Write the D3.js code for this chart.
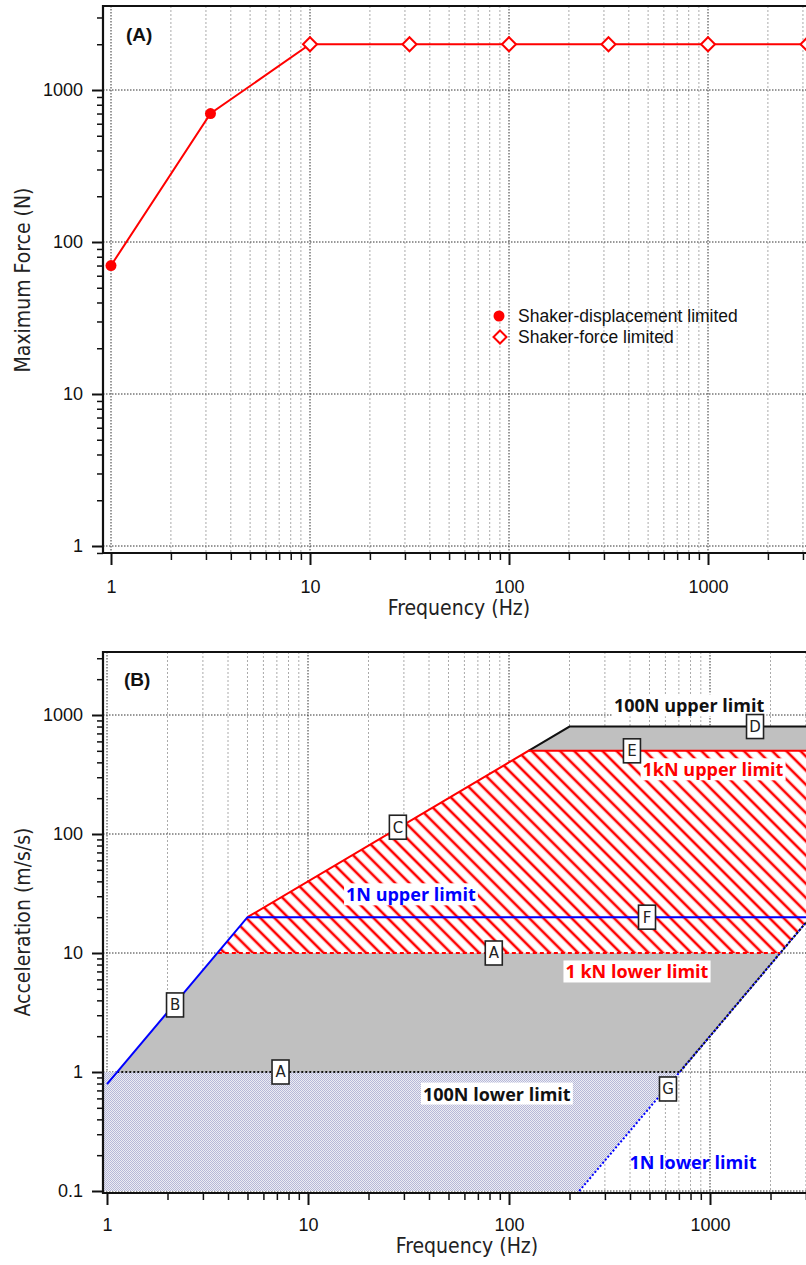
<!DOCTYPE html>
<html>
<head>
<meta charset="utf-8">
<script src="https://cdnjs.cloudflare.com/ajax/libs/d3/7.8.5/d3.min.js"></script>
<style>
	body { margin:0; background:#fff; }
	svg { display:block; background:#fff; }
	.title { font-family:'DejaVu Sans Condensed','DejaVu Sans', sans-serif; font-size:21px; fill:#222; }
	.legend { font-family:'Liberation Sans', Arial, sans-serif; font-size:17.5px; fill:#111; }
	.letter { font-family:'Liberation Sans', Arial, sans-serif; font-size:19px; font-weight:bold; fill:#111; }
	.lbl { font-family:'Open Sans', sans-serif; font-size:18px; font-weight:bold; }
	.box text { font-family:'DejaVu Sans', sans-serif; font-size:15px; fill:#222; }
</style>
</head>
<body>
<div id="chart"></div>
<script>
var width = 806, height = 1265;

// ---- panel A data ----
var freqA  = [1, 3.162, 10, 31.62, 100, 316.2, 1000, 3162];
var forceA = [70, 700, 2000, 2000, 2000, 2000, 2000, 2000];
var kindA  = ["disp", "disp", "force", "force", "force", "force", "force", "force"];
var legendA = ["Shaker-displacement limited", "Shaker-force limited"];

// ---- tick labels ----
var xTicks = [1, 10, 100, 1000];
var xTickLabels = ["1", "10", "100", "1000"];
var yTicksA = [1, 10, 100, 1000];
var yTickLabelsA = ["1", "10", "100", "1000"];
var yTicksB = [0.1, 1, 10, 100, 1000];
var yTickLabelsB = ["0.1", "1", "10", "100", "1000"];

// ---- panel B limit lines (frequency, acceleration) ----
var blueF = [1, 5, 10000],        blueA = [0.79, 20, 20];      // B, F : 1N upper limit
var redF  = [5, 125, 10000],      redA  = [20, 500, 500];      // C, E : 1kN upper limit
var blackF = [125, 200, 10000],   blackA = [500, 800, 800];    // D : 100N upper limit
var redLowF = [3.56, 2236],       redLowA = [10, 10];          // A : 1 kN lower limit
var blkLowF = [1.125, 707, 15811], blkLowA = [1, 1, 500];      // A : 100N lower limit
var blueLowF = [223.6, 15811],    blueLowA = [0.1, 500];       // G : 1N lower limit

// ---- panel B regions ----
var lavF = [0.9, 223.6, 707, 0.9],           lavA = [0.1, 0.1, 1, 1];
var greyMidF = [1.125, 707, 2236, 3.56],      greyMidA = [1, 1, 10, 10];
var hatchF = [3.56, 2236, 15811, 125, 5],     hatchA = [10, 10, 500, 500, 20];
var greyTopF = [125, 200, 20000, 20000],      greyTopA = [500, 800, 800, 500];

// ---- panel B annotations ----
var boxText = ["C", "D", "E", "F", "A", "B", "A", "G"];
var boxF = [28, 1675, 409, 486, 84, 2.18, 7.3, 618];
var boxA = [114, 800, 500, 20, 10, 3.66, 1, 0.72];

var lblText  = ["100N upper limit", "1kN upper limit", "1N upper limit", "1 kN lower limit", "100N lower limit", "1N lower limit"];
var lblF     = [787, 1035, 32.5, 433, 87, 823];
var lblA     = [1191, 345, 30.7, 6.9, 0.65, 0.172];
var lblColor = ["#111", "#f00", "#0000ff", "#f00", "#111", "#0000ff"];
var lblBg    = [true, true, true, true, true, false];

var svg = d3.select("#chart").append("svg")
	.attr("width", width)
	.attr("height", height);

var defs = svg.append("defs");

var hatch = defs.append("pattern")
	.attr("id", "hatch")
	.attr("patternUnits", "userSpaceOnUse")
	.attr("width", 10).attr("height", 10)
	.attr("patternTransform", "rotate(45)");
hatch.append("rect").attr("width", 10).attr("height", 10).attr("fill", "#fff");
hatch.append("line").attr("x1", 0).attr("x2", 10).attr("y1", 5).attr("y2", 5)
	.attr("stroke", "#f00").attr("stroke-width", 2.6);

var chk = defs.append("pattern")
	.attr("id", "checker")
	.attr("patternUnits", "userSpaceOnUse")
	.attr("width", 2).attr("height", 2);
chk.append("rect").attr("width", 2).attr("height", 2).attr("fill", "#ececf4");
chk.append("rect").attr("width", 1).attr("height", 1).attr("fill", "#b6b8d8");
chk.append("rect").attr("x", 1).attr("y", 1).attr("width", 1).attr("height", 1).attr("fill", "#b6b8d8");

defs.append("clipPath").attr("id", "clipB")
	.append("rect").attr("x", 103).attr("y", 652).attr("width", 800).attr("height", 541);

function isMajor(v) {
	var l = Math.log10(v);
	return Math.abs(l - Math.round(l)) < 1e-9;
}

// grid lines for one panel
function drawGrid(g, x, y, box) {
	var xt = d3.scaleLog().domain([x.invert(box.left), x.invert(box.right)]).ticks();
	var yt = d3.scaleLog().domain([y.invert(box.bottom), y.invert(box.top)]).ticks().filter(isMajor);

	g.selectAll(".vgrid").data(xt).enter().append("line")
		.attr("x1", function(d) { return x(d); }).attr("x2", function(d) { return x(d); })
		.attr("y1", box.top).attr("y2", box.bottom)
		.attr("stroke", function(d) { return isMajor(d) ? "#333" : "#aaa"; })
		.attr("stroke-dasharray", function(d) { return isMajor(d) ? "1.5,1.5" : "2,2"; })
		.attr("stroke-width", 1);

	g.selectAll(".hgrid").data(yt).enter().append("line")
		.attr("y1", function(d) { return y(d); }).attr("y2", function(d) { return y(d); })
		.attr("x1", box.left).attr("x2", box.right)
		.attr("stroke", "#333")
		.attr("stroke-dasharray", "1.5,1.5")
		.attr("stroke-width", 1);
}

function drawAxes(g, x, y, box, yTicks, yLabels, xPad) {
	var xt = d3.scaleLog().domain([x.invert(box.left), x.invert(box.right)]).ticks().filter(function(d) { return !isMajor(d); });
	var yt = d3.scaleLog().domain([y.invert(box.bottom), y.invert(box.top)]).ticks().filter(function(d) { return !isMajor(d); });

	var gx = g.append("g").attr("transform", "translate(0," + box.bottom + ")");
	gx.append("g").call(d3.axisBottom(x).tickValues(xt).tickSize(7).tickFormat(""))
		.call(function(s) { s.select(".domain").remove(); s.selectAll("line").attr("stroke-width", 1.5).attr("stroke", "#111"); });
	gx.append("g").call(d3.axisBottom(x).tickValues(xTicks).tickSize(12).tickPadding(xPad)
		.tickFormat(function(d, i) { return xTickLabels[i]; }))
		.call(function(s) { s.select(".domain").remove(); s.selectAll("line").attr("stroke-width", 2).attr("stroke", "#111"); });

	var gy = g.append("g").attr("transform", "translate(" + box.left + ",0)");
	gy.append("g").call(d3.axisLeft(y).tickValues(yt).tickSize(6).tickFormat(""))
		.call(function(s) { s.select(".domain").remove(); s.selectAll("line").attr("stroke-width", 1.5).attr("stroke", "#111"); });
	gy.append("g").call(d3.axisLeft(y).tickValues(yTicks).tickSize(11).tickPadding(9)
		.tickFormat(function(d, i) { return yLabels[i]; }))
		.call(function(s) { s.select(".domain").remove(); s.selectAll("line").attr("stroke-width", 2).attr("stroke", "#111"); });

	g.selectAll(".tick text").style("font-family", "'Liberation Sans', Arial, sans-serif").style("font-size", "18px").attr("fill", "#111");

	// frame: left, bottom, top
	g.append("path")
		.attr("d", "M" + box.right + "," + box.top + "H" + box.left + "V" + box.bottom + "H" + box.right)
		.attr("fill", "none").attr("stroke", "#111").attr("stroke-width", 2.2);
}

// ================= Panel A =================
var boxA1 = { left: 103, top: 6, bottom: 553, right: 806 };
var xA = d3.scaleLog().domain([1, 10000]).range([111, 907]);
var yA = d3.scaleLog().domain([1, 1000]).range([546, 90]);

var gA = svg.append("g");
drawGrid(gA, xA, yA, boxA1);

var lineA = d3.line().x(function(d) { return xA(d[0]); }).y(function(d) { return yA(d[1]); });
gA.append("path")
	.datum(d3.zip(freqA, forceA))
	.attr("d", lineA)
	.attr("fill", "none").attr("stroke", "#f00").attr("stroke-width", 2);

var ptsA = d3.zip(freqA, forceA, kindA);
gA.selectAll(".dot").data(ptsA.filter(function(d) { return d[2] == "disp"; })).enter().append("circle")
	.attr("cx", function(d) { return xA(d[0]); })
	.attr("cy", function(d) { return yA(d[1]); })
	.attr("r", 5.5).attr("fill", "#f00");

var diamond = "M0,-7L7,0L0,7L-7,0Z";
gA.selectAll(".dia").data(ptsA.filter(function(d) { return d[2] == "force"; })).enter().append("path")
	.attr("transform", function(d) { return "translate(" + xA(d[0]) + "," + yA(d[1]) + ")"; })
	.attr("d", diamond)
	.attr("fill", "#fff").attr("stroke", "#f00").attr("stroke-width", 2);

// legend
gA.append("circle").attr("cx", 499).attr("cy", 316).attr("r", 5.5).attr("fill", "#f00");
gA.append("path").attr("transform", "translate(500,337)").attr("d", "M0,-6.5L6.5,0L0,6.5L-6.5,0Z")
	.attr("fill", "#fff").attr("stroke", "#f00").attr("stroke-width", 2);
gA.selectAll(".legend").data(legendA).enter().append("text")
	.attr("class", "legend")
	.attr("x", 518)
	.attr("y", function(d, i) { return 322 + i * 21; })
	.text(function(d) { return d; });

gA.append("text").attr("class", "letter").attr("x", 126).attr("y", 41).text("(A)");

drawAxes(gA, xA, yA, boxA1, yTicksA, yTickLabelsA, 15);

svg.append("text").attr("class", "title")
	.attr("x", 459).attr("y", 615).attr("text-anchor", "middle").text("Frequency (Hz)");
svg.append("text").attr("class", "title")
	.attr("transform", "translate(30,280) rotate(-90)")
	.attr("text-anchor", "middle").text("Maximum Force (N)");

// ================= Panel B =================
var boxB1 = { left: 103, top: 652, bottom: 1193, right: 806 };
var xB = d3.scaleLog().domain([1, 10000]).range([107, 911]);
var yB = d3.scaleLog().domain([0.1, 1000]).range([1191, 715]);

var gB = svg.append("g");
drawGrid(gB, xB, yB, boxB1);

var lineB = d3.line().x(function(d) { return xB(d[0]); }).y(function(d) { return yB(d[1]); });
var areaB = function(f, a) { return lineB(d3.zip(f, a)) + "Z"; };

var gc = gB.append("g").attr("clip-path", "url(#clipB)");

gc.append("path").attr("d", areaB(lavF, lavA)).attr("fill", "url(#checker)");
gc.append("path").attr("d", areaB(greyMidF, greyMidA)).attr("fill", "#c0c0c0");
gc.append("path").attr("d", areaB(hatchF, hatchA)).attr("fill", "url(#hatch)");
gc.append("path").attr("d", areaB(greyTopF, greyTopA)).attr("fill", "#c0c0c0");

function drawLine(f, a, color, w, dash) {
	gc.append("path")
		.attr("d", lineB(d3.zip(f, a)))
		.attr("fill", "none")
		.attr("stroke", color)
		.attr("stroke-width", w)
		.attr("stroke-dasharray", dash);
}

drawLine(blueLowF, blueLowA, "#0000ff", 2, "2,2");
drawLine(blkLowF, blkLowA, "#111", 2, "2,2");
drawLine(redLowF, redLowA, "#f00", 2, "4,3");
drawLine(blackF, blackA, "#111", 2, null);
drawLine(redF, redA, "#f00", 2, null);
drawLine(blueF, blueA, "#0000ff", 2, null);

// text labels
lblText.forEach(function(t, i) {
	var tg = gB.append("g");
	var tx = tg.append("text").attr("class", "lbl")
		.attr("x", xB(lblF[i])).attr("y", yB(lblA[i]))
		.attr("dy", "0.35em")
		.attr("text-anchor", "middle")
		.attr("fill", lblColor[i])
		.text(t);
	if (lblBg[i]) {
		var bb = tx.node().getBBox();
		tg.insert("rect", "text")
			.attr("x", bb.x - 2).attr("y", bb.y + 1)
			.attr("width", bb.width + 4).attr("height", bb.height - 2)
			.attr("fill", "#fff");
	}
});

// boxed letters
var bx = gB.selectAll(".box").data(d3.zip(boxF, boxA, boxText)).enter().append("g")
	.attr("class", "box")
	.attr("transform", function(d) { return "translate(" + xB(d[0]) + "," + yB(d[1]) + ")"; });
bx.append("rect").attr("x", -8.5).attr("y", -12).attr("width", 17).attr("height", 24)
	.attr("fill", "#fff").attr("stroke", "#222").attr("stroke-width", 1.6);
bx.append("text").attr("text-anchor", "middle").attr("dy", "0.36em").text(function(d) { return d[2]; });

gB.append("text").attr("class", "letter").attr("x", 124).attr("y", 686).text("(B)");

drawAxes(gB, xB, yB, boxB1, yTicksB, yTickLabelsB, 13);

svg.append("text").attr("class", "title")
	.attr("x", 467).attr("y", 1253).attr("text-anchor", "middle").text("Frequency (Hz)");
svg.append("text").attr("class", "title")
	.attr("transform", "translate(30,922) rotate(-90)")
	.attr("text-anchor", "middle").text("Acceleration (m/s/s)");
</script>
</body>
</html>
